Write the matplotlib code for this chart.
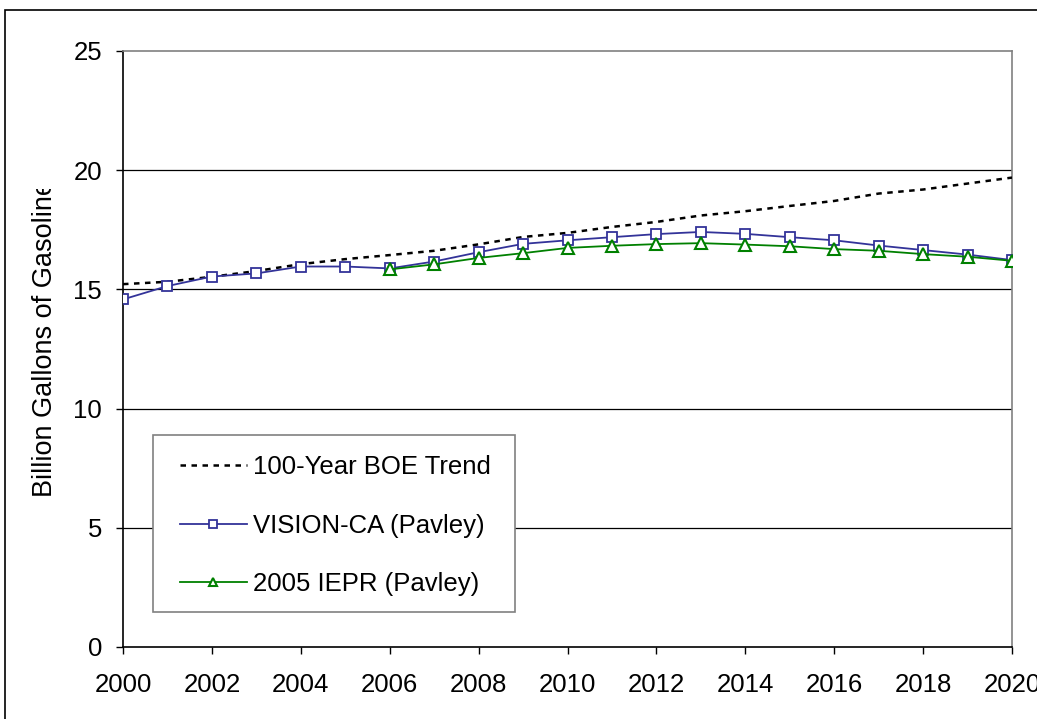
import matplotlib
matplotlib.use("Agg")
import matplotlib.pyplot as plt
from matplotlib.patches import Rectangle
from matplotlib.transforms import Bbox

plt.rcParams['font.family'] = ['Liberation Sans', 'DejaVu Sans']

years = list(range(2000, 2021))
trend = [15.22, 15.32, 15.53, 15.77, 16.06, 16.27, 16.44, 16.62, 16.89, 17.20, 17.37,
         17.62, 17.83, 18.10, 18.28, 18.50, 18.71, 19.02, 19.19, 19.44, 19.69]
vision = [14.58, 15.14, 15.54, 15.67, 15.96, 15.96, 15.88, 16.17, 16.56, 16.91, 17.06,
          17.19, 17.32, 17.41, 17.33, 17.19, 17.06, 16.84, 16.65, 16.46, 16.23]
iepr_years = list(range(2006, 2021))
iepr = [15.84, 16.05, 16.32, 16.52, 16.74, 16.83, 16.90, 16.94, 16.88, 16.81,
        16.69, 16.62, 16.48, 16.37, 16.20]

labels = ["100-Year BOE Trend", "VISION-CA (Pavley)", "2005 IEPR (Pavley)"]
yticks = [0, 5, 10, 15, 20, 25]
xticks = list(range(2000, 2021, 2))

W, H = 1037, 719
fig = plt.figure(figsize=(W / 100, H / 100), dpi=100)
ax = fig.add_axes([123 / W, 1 - 647 / H, (1012 - 123) / W, (647 - 51) / H])

blue = '#333399'
green = '#008000'
fs = 18.5

l1, = ax.plot(years, trend, color='black', lw=1.8, linestyle=(0, (2.2, 2.2)), zorder=3)
l2, = ax.plot(years, vision, color=blue, lw=1.3, marker='s', markersize=7.5,
              markerfacecolor='white', markeredgecolor=blue, markeredgewidth=1.3, zorder=4)
l3, = ax.plot(iepr_years, iepr, color=green, lw=1.3, marker='^', markersize=9,
              markerfacecolor='white', markeredgecolor=green, markeredgewidth=1.5, zorder=5)

ax.set_xlim(2000, 2020)
ax.set_ylim(0, 25)
ax.set_xticks(xticks)
ax.set_yticks(yticks)
ax.tick_params(axis='both', direction='out', length=5, width=1, labelsize=fs, color='black')
ax.tick_params(axis='x', pad=14)
ax.tick_params(axis='y', pad=10)

for y in [5, 10, 15, 20]:
    ax.axhline(y, color='black', lw=0.9, zorder=1)

ax.spines['left'].set_color('black')
ax.spines['bottom'].set_color('black')
ax.spines['top'].set_color('#808080')
ax.spines['right'].set_color('#808080')
for s in ax.spines.values():
    s.set_linewidth(1.2)

# legend frame drawn separately so its padding can match the reference
frame = Rectangle((153 / W, 1 - 612 / H), (515 - 153) / W, (612 - 435) / H,
                  transform=fig.transFigure, facecolor='white', edgecolor='#808080',
                  lw=1.2, zorder=6)
ax.add_patch(frame)
frame.set_clip_on(False)

leg = ax.legend([l1, l2, l3], labels, loc='upper left',
                bbox_to_anchor=(180 / W, 1 - 455 / H), bbox_transform=fig.transFigure,
                fontsize=fs, frameon=False, borderpad=0, labelspacing=1.35,
                handlelength=2.6, handletextpad=0.25, markerscale=0.7, borderaxespad=0)
leg.set_zorder(7)

# y label, clipped at the top like the reference
yl = fig.text(45 / W, 1 - 497 / H, "Billion Gallons of Gasoline", rotation=90,
              ha='center', va='bottom', fontsize=19.5)
yl.set_clip_box(Bbox.from_extents(0, 0, W, H - 189))
yl.set_clip_on(True)

# outer frame
fig.patches.append(Rectangle((5 / W, -0.1), 2, (H - 10) / H + 0.1,
                             transform=fig.transFigure, fill=False,
                             edgecolor='black', lw=1.2))

fig.savefig('out.png', dpi=100)
